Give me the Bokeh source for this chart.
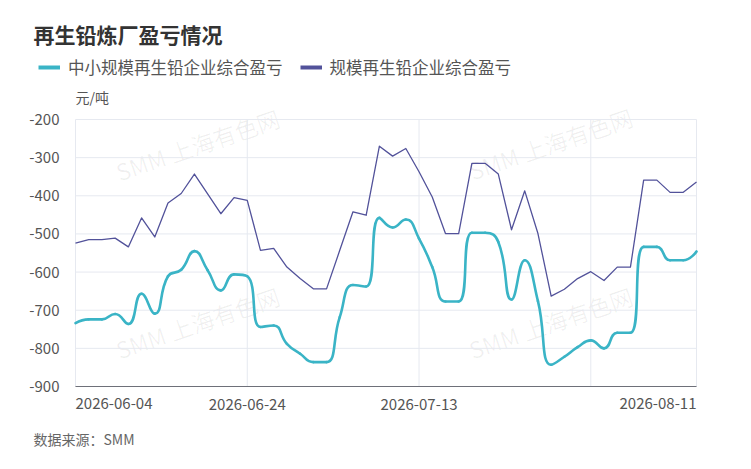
import math
from bokeh.plotting import figure
from bokeh.models import FixedTicker, Label, Legend, LegendItem, Range1d, ColumnDataSource, LinearAxis
from bokeh.embed import file_html
from bokeh.resources import INLINE

# ---------------- data ----------------
dates = [
    "2026-06-04", "2026-06-05", "2026-06-08", "2026-06-09", "2026-06-10", "2026-06-11",
    "2026-06-12", "2026-06-15", "2026-06-16", "2026-06-17", "2026-06-18", "2026-06-22",
    "2026-06-23", "2026-06-24", "2026-06-25", "2026-06-26", "2026-06-29", "2026-06-30",
    "2026-07-01", "2026-07-02", "2026-07-03", "2026-07-06", "2026-07-07", "2026-07-08",
    "2026-07-09", "2026-07-10", "2026-07-13", "2026-07-14", "2026-07-15", "2026-07-16",
    "2026-07-17", "2026-07-20", "2026-07-21", "2026-07-22", "2026-07-23", "2026-07-24",
    "2026-07-27", "2026-07-28", "2026-07-29", "2026-07-30", "2026-07-31", "2026-08-03",
    "2026-08-04", "2026-08-05", "2026-08-06", "2026-08-07", "2026-08-10", "2026-08-11",
]
small_scale = [
    -734, -724, -724, -710, -736, -657, -709, -611, -594, -545,
    -595, -648, -606, -611, -744, -740, -788, -814, -836, -836,
    -718, -634, -638, -458, -483, -462, -512, -587, -677, -677,
    -497, -497, -521, -672, -569, -676, -843, -822, -797, -779,
    -800, -759, -759, -534, -534, -569, -569, -546,
]
large_scale = [
    -524, -515, -515, -511, -534, -458, -508, -419, -394, -343,
    -395, -447, -405, -412, -543, -538, -587, -617, -644, -644,
    -543, -442, -451, -270, -296, -276, -337, -403, -499, -499,
    -315, -315, -343, -489, -387, -499, -663, -645, -617, -599,
    -622, -587, -587, -359, -359, -391, -391, -364,
]
series_names = ["中小规模再生铅企业综合盈亏", "规模再生铅企业综合盈亏"]
y_ticks = [-900, -800, -700, -600, -500, -400, -300, -200]
y_tick_labels = ["-900", "-800", "-700", "-600", "-500", "-400", "-300", "-200"]
x_label_idx = [0, 13, 26, 39, 47]
title_text = "再生铅炼厂盈亏情况"
unit_text = "元/吨"
source_text = "数据来源：SMM"
watermark_text = "SMM 上海有色网"

# ---------------- layout / styles ----------------
TEAL = "#3ab4c6"
PURPLE = "#52529a"
GRID = "#e6e9f0"
TXT = "#555555"
FONT = "Noto Sans CJK SC"
W, H = 735, 453
PL, PR, PT, PB = 75, 696, 119, 386          # plotting area in pixels

xs = list(range(len(dates)))
n = len(xs)
ymin, ymax = y_ticks[0], y_ticks[-1]
kx = (PR - PL) / (n - 1)
ky = (PB - PT) / (ymax - ymin)

# the frame fills the whole canvas; data area maps to the plotting rectangle
p = figure(width=W, height=H, output_backend="svg", toolbar_location=None, title=None,
           min_border=0, min_border_left=0, min_border_right=0,
           min_border_top=0, min_border_bottom=0,
           x_axis_type=None, y_axis_type=None,
           x_range=Range1d(-PL / kx, (W - PL) / kx),
           y_range=Range1d(ymin - (H - PB) / ky, ymax + PT / ky))
p.outline_line_color = None
p.background_fill_color = "white"
p.border_fill_color = "white"
p.xgrid.visible = False
p.ygrid.visible = False

# grid lines limited to the plotting rectangle
p.segment(x0=[xs[0]] * len(y_ticks), x1=[xs[-1]] * len(y_ticks), y0=y_ticks, y1=y_ticks,
          line_color=GRID, line_width=1)
p.segment(x0=x_label_idx, x1=x_label_idx, y0=[ymin] * len(x_label_idx),
          y1=[ymax] * len(x_label_idx), line_color=GRID, line_width=1)

# y axis
yax = LinearAxis(fixed_location=xs[0], ticker=FixedTicker(ticks=y_ticks))
yax.major_label_overrides = {t: l for t, l in zip(y_ticks, y_tick_labels)}
yax.axis_line_color = None
yax.major_tick_line_color = None
yax.minor_tick_line_color = None
yax.major_label_standoff = 10
yax.major_label_text_font = FONT
yax.major_label_text_font_size = "15px"
yax.major_label_text_color = TXT
p.add_layout(yax, "left")

# x axis (inner labels centred; end labels aligned to the edges)
inner = x_label_idx[1:3]
xax = LinearAxis(fixed_location=ymin, ticker=FixedTicker(ticks=inner), bounds=(xs[0], xs[-1]))
xax.major_label_overrides = {i: dates[i] for i in inner}
xax.axis_line_color = "#6e7079"
xax.major_tick_line_color = None
xax.minor_tick_line_color = None
xax.major_label_standoff = 6
xax.major_label_text_font = FONT
xax.major_label_text_font_size = "15px"
xax.major_label_text_color = TXT
p.add_layout(xax, "below")

for idx, align in ((x_label_idx[0], "left"), (x_label_idx[-1], "right")):
    p.add_layout(Label(x=idx, y=ymin, text=dates[idx], text_align=align,
                       text_baseline="middle", y_offset=-17, text_font=FONT,
                       text_font_size="15px", text_color=TXT))

# watermarks
for (X, Y) in ((197, 144), (550, 143), (197, 322), (550, 322)):
    p.add_layout(Label(x=X, y=H - Y, x_units="screen", y_units="screen",
                       text=watermark_text, text_align="center", text_baseline="middle",
                       angle=0.33, text_font=FONT, text_font_size="23px",
                       text_color="#000000", text_alpha=0.06, level="underlay"))

# large-scale series: straight line
p.line(xs, large_scale, line_color=PURPLE, line_width=1.3, line_join="round")


# small-scale series: smooth bezier (echarts-style smoothing with clamping, pixel space)
def clamp(v, a, b):
    lo, hi = min(a, b), max(a, b)
    return max(lo, min(hi, v))


px = [x * kx for x in xs]
py = [y * ky for y in small_scale]
cin = [(px[i], py[i]) for i in range(n)]
cout = [(px[i], py[i]) for i in range(n)]
sm = 0.5
for i in range(1, n - 1):
    x, y = px[i], py[i]
    xp, yp = px[i - 1], py[i - 1]
    xn, yn = px[i + 1], py[i + 1]
    vx, vy = xn - xp, yn - yp
    d0 = math.hypot(x - xp, y - yp)
    d1 = math.hypot(xn - x, yn - y)
    r = d1 / (d0 + d1)
    nx = clamp(x + vx * sm * r, xn, x)
    ny = clamp(y + vy * sm * r, yn, y)
    vx, vy = nx - x, ny - y
    c1x = clamp(x - vx * d0 / d1, xp, x)
    c1y = clamp(y - vy * d0 / d1, yp, y)
    vx, vy = x - c1x, y - c1y
    nx = x + vx * d1 / d0
    ny = y + vy * d1 / d0
    cin[i] = (c1x, c1y)
    cout[i] = (nx, ny)

src = ColumnDataSource(dict(
    x0=xs[:-1], y0=small_scale[:-1], x1=xs[1:], y1=small_scale[1:],
    cx0=[cout[i][0] / kx for i in range(n - 1)], cy0=[cout[i][1] / ky for i in range(n - 1)],
    cx1=[cin[i + 1][0] / kx for i in range(n - 1)], cy1=[cin[i + 1][1] / ky for i in range(n - 1)],
))
p.bezier(x0="x0", y0="y0", x1="x1", y1="y1", cx0="cx0", cy0="cy0", cx1="cx1", cy1="cy1",
         source=src, line_color=TEAL, line_width=2.6, line_cap="round")

# legend (swatch renderers with no visible data)
nan = float("nan")
r1 = p.line([nan], [nan], line_color=TEAL, line_width=4)
r2 = p.line([nan], [nan], line_color=PURPLE, line_width=4)
legend = Legend(items=[LegendItem(label=series_names[0], renderers=[r1]),
                       LegendItem(label=series_names[1], renderers=[r2])],
                orientation="horizontal", location=(38, H - 79),
                glyph_width=22, glyph_height=20, label_height=20, label_standoff=8,
                spacing=17, padding=0, margin=0, border_line_color=None,
                background_fill_alpha=0, label_text_font=FONT,
                label_text_font_size="16.5px", label_text_color=TXT)
p.add_layout(legend)

# title, unit, source
p.add_layout(Label(x=33, y=H - 33, x_units="screen", y_units="screen",
                   text=title_text, text_baseline="middle", text_font=FONT,
                   text_font_size="21px", text_font_style="bold", text_color="#333333"))
p.add_layout(Label(x=PL, y=H - 96, x_units="screen", y_units="screen",
                   text=unit_text, text_baseline="middle", text_font=FONT,
                   text_font_size="14px", text_color=TXT))
p.add_layout(Label(x=33, y=H - 438, x_units="screen", y_units="screen",
                   text=source_text, text_baseline="middle", text_font=FONT,
                   text_font_size="14px", text_color="#666666"))

open("out.html", "w").write(file_html(p, INLINE))
